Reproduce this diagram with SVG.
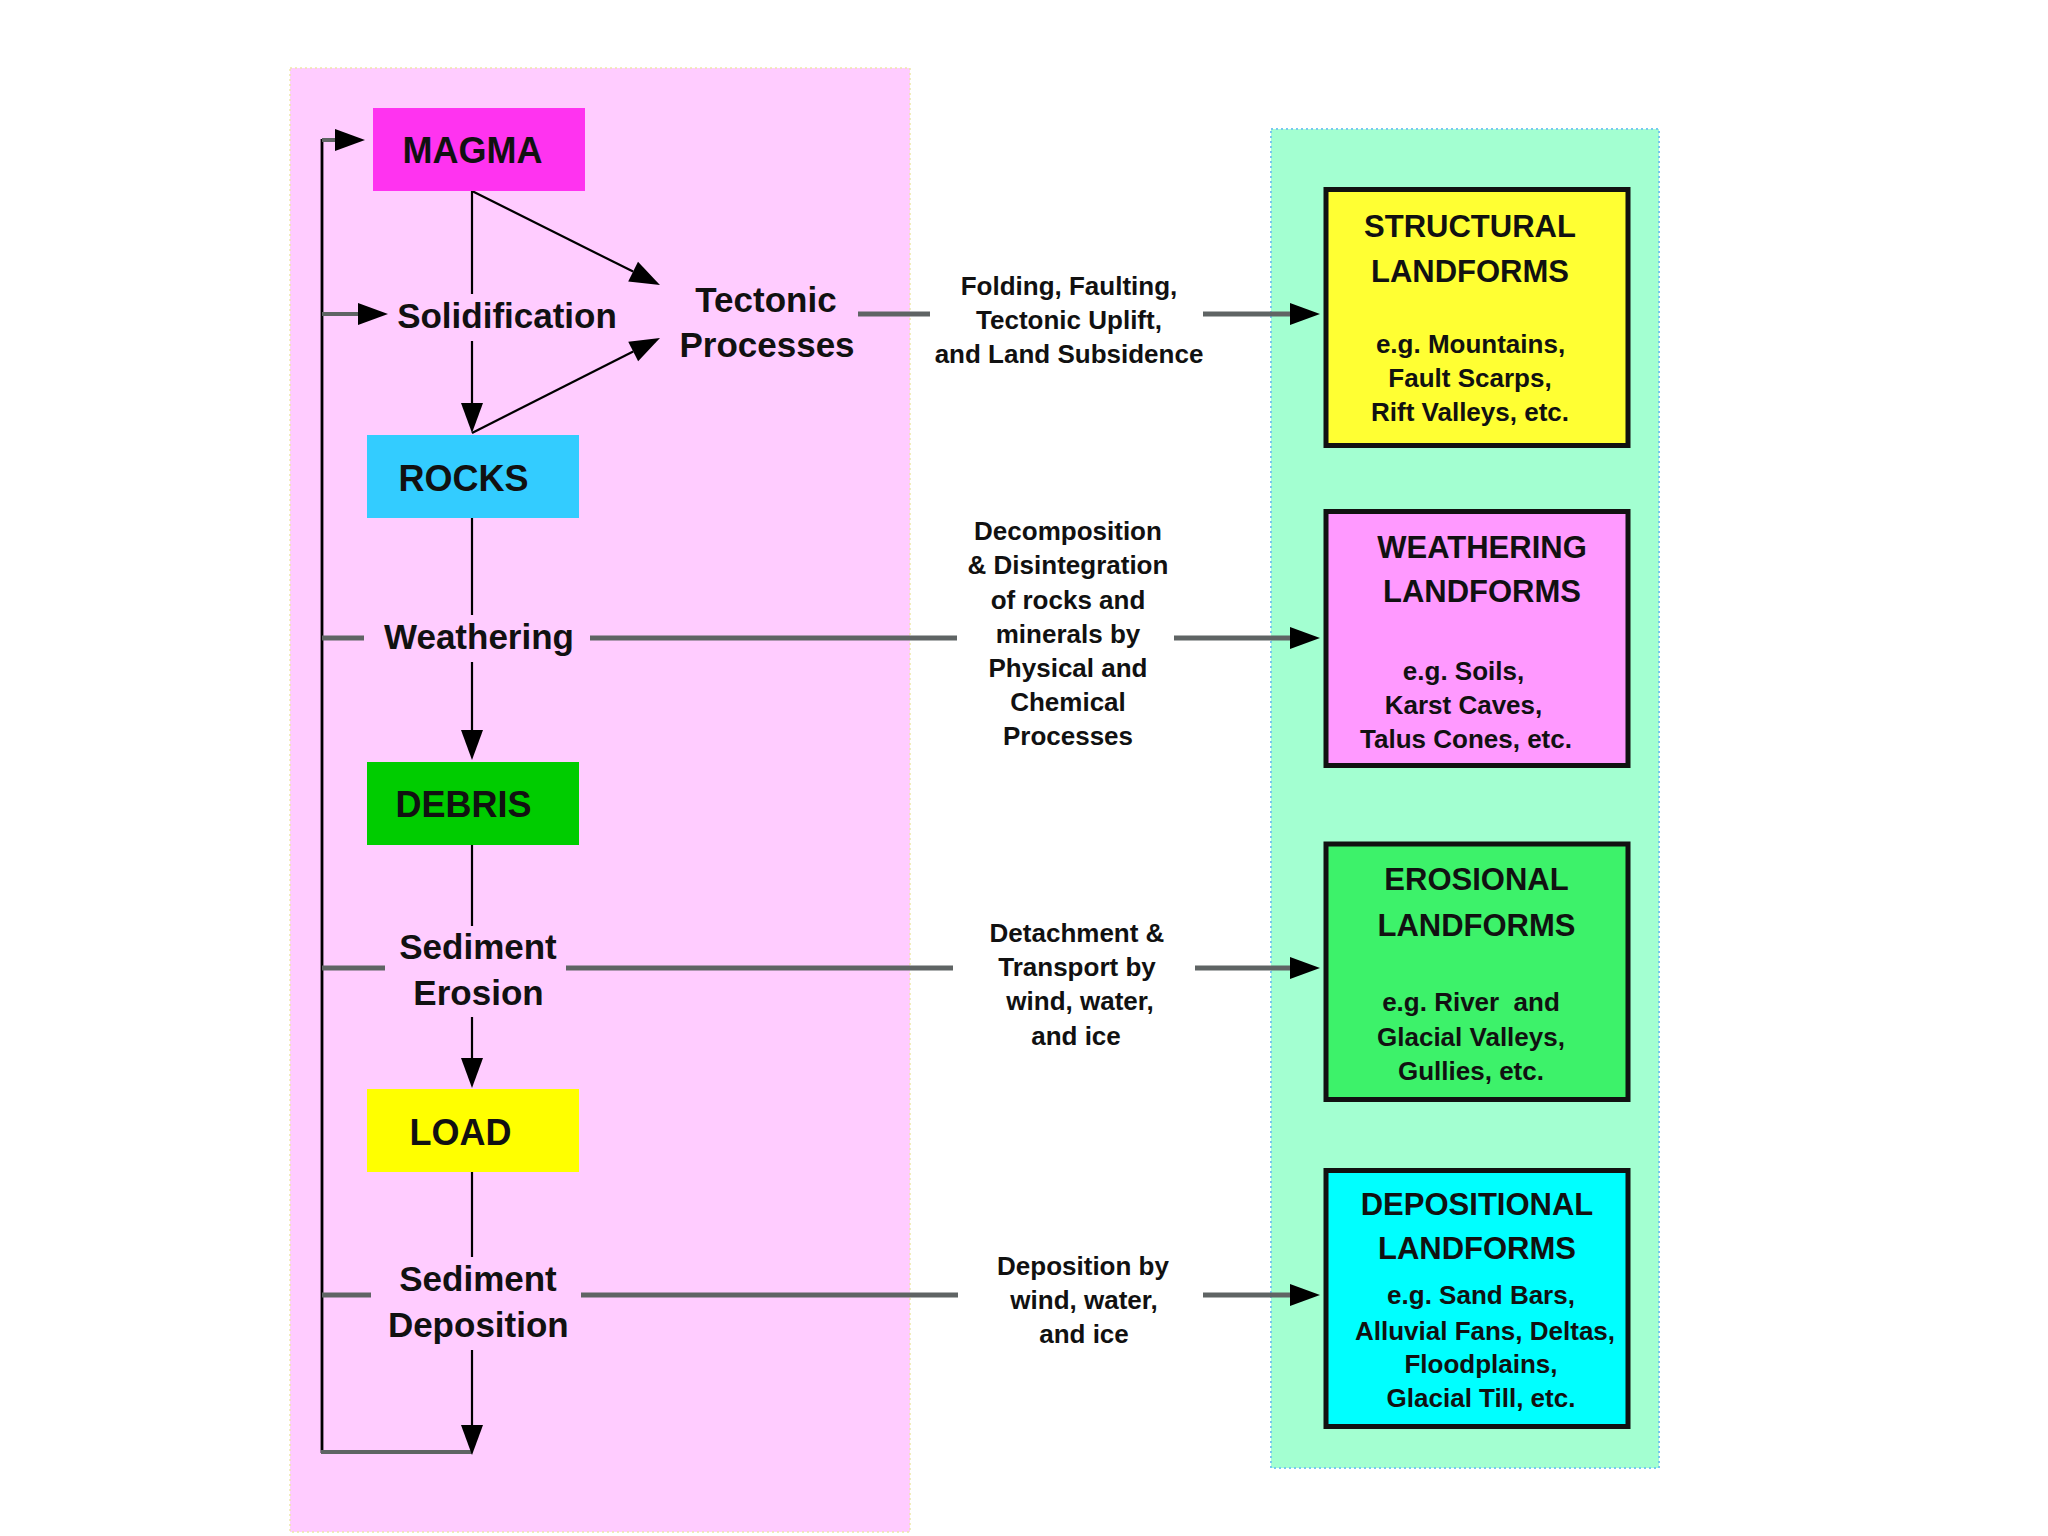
<svg xmlns="http://www.w3.org/2000/svg" width="2048" height="1536" viewBox="0 0 2048 1536">
<defs>
<style>
text{font-family:"Liberation Sans",Arial,sans-serif;font-weight:bold;fill:#111;text-anchor:middle}
.node{font-size:36px}
.proc{font-size:35px}
.ttl{font-size:31px}
.ex{font-size:26px}
.side{font-size:26px}
.blk{stroke:#000;stroke-width:2.2;fill:none}
.loop{stroke:#000;stroke-width:2.8;fill:none}
.gry{stroke:#5f6464;stroke-width:5;fill:none}
.gry4{stroke:#5f6464;stroke-width:4;fill:none}
.box{stroke:#111;stroke-width:5}
</style>
<marker id="ah" markerUnits="userSpaceOnUse" markerWidth="30" markerHeight="22" refX="0" refY="11" orient="auto" overflow="visible">
<path d="M0,0 L30,11 L0,22 Z" fill="#000"/>
</marker>
</defs>
<rect width="2048" height="1536" fill="#fff"/>
<g id="panels">
<rect x="290" y="68" width="620" height="1464" fill="#FFCCFF" stroke="#EEE8A8" stroke-width="1.5" stroke-dasharray="2,3"/>
<rect x="1271" y="129" width="388" height="1339" fill="#A3FFD1" stroke="#77C8F0" stroke-width="2" stroke-dasharray="2,3"/>
</g>
<g id="connectors">
<line class="loop" x1="322" y1="139" x2="322" y2="1453"/>
<line class="gry4" x1="321" y1="1452" x2="472" y2="1452"/>
<line class="gry4" x1="322" y1="140" x2="335" y2="140" marker-end="url(#ah)"/>
<line class="gry4" x1="322" y1="314" x2="358" y2="314" marker-end="url(#ah)"/>
<line class="blk" x1="472" y1="191" x2="472" y2="294"/>
<line class="blk" x1="472" y1="341" x2="472" y2="403" marker-end="url(#ah)"/>
<line class="blk" x1="472" y1="191" x2="633.1" y2="271.6" marker-end="url(#ah)"/>
<line class="blk" x1="472" y1="433" x2="633.2" y2="351.5" marker-end="url(#ah)"/>
<line class="blk" x1="472" y1="518" x2="472" y2="615"/>
<line class="blk" x1="472" y1="662" x2="472" y2="730" marker-end="url(#ah)"/>
<line class="blk" x1="472" y1="845" x2="472" y2="926"/>
<line class="blk" x1="472" y1="1017" x2="472" y2="1058" marker-end="url(#ah)"/>
<line class="blk" x1="472" y1="1172" x2="472" y2="1257"/>
<line class="blk" x1="472" y1="1350" x2="472" y2="1425" marker-end="url(#ah)"/>
<line class="gry" x1="858" y1="314" x2="930" y2="314"/>
<line class="gry" x1="1203" y1="314" x2="1290" y2="314" marker-end="url(#ah)"/>
<line class="gry" x1="322" y1="638" x2="364" y2="638"/>
<line class="gry" x1="590" y1="638" x2="957" y2="638"/>
<line class="gry" x1="1174" y1="638" x2="1290" y2="638" marker-end="url(#ah)"/>
<line class="gry" x1="322" y1="968" x2="385" y2="968"/>
<line class="gry" x1="566" y1="968" x2="953" y2="968"/>
<line class="gry" x1="1195" y1="968" x2="1290" y2="968" marker-end="url(#ah)"/>
<line class="gry" x1="322" y1="1295" x2="371" y2="1295"/>
<line class="gry" x1="581" y1="1295" x2="958" y2="1295"/>
<line class="gry" x1="1203" y1="1295" x2="1290" y2="1295" marker-end="url(#ah)"/>
</g>
<g id="magma"><rect x="373" y="108" width="212" height="83" fill="#FF33F0"/><text class="node" x="472.5" y="163">MAGMA</text></g>
<g id="rocks"><rect x="367" y="435" width="212" height="83" fill="#33CCFF"/><text class="node" x="463.5" y="491">ROCKS</text></g>
<g id="debris"><rect x="367" y="762" width="212" height="83" fill="#00CC00"/><text class="node" x="463.5" y="817">DEBRIS</text></g>
<g id="load"><rect x="367" y="1089" width="212" height="83" fill="#FFFF00"/><text class="node" x="460.5" y="1145">LOAD</text></g>
<g id="solidification"><text class="proc" x="507" y="328">Solidification</text></g>
<g id="tectonic"><text class="proc" x="766" y="312">Tectonic</text><text class="proc" x="767" y="357">Processes</text></g>
<g id="weathering"><text class="proc" x="479" y="649">Weathering</text></g>
<g id="sediment-erosion"><text class="proc" x="478" y="959">Sediment</text><text class="proc" x="478.5" y="1005">Erosion</text></g>
<g id="sediment-deposition"><text class="proc" x="478" y="1291">Sediment</text><text class="proc" x="478.3" y="1337">Deposition</text></g>
<g id="label-structural">
<text class="side" x="1069" y="295">Folding, Faulting,</text>
<text class="side" x="1069" y="329">Tectonic Uplift,</text>
<text class="side" x="1069" y="363">and Land Subsidence</text>
</g>
<g id="label-weathering">
<text class="side" x="1068" y="540">Decomposition</text>
<text class="side" x="1068" y="574">&amp; Disintegration</text>
<text class="side" x="1068" y="609">of rocks and</text>
<text class="side" x="1068" y="643">minerals by</text>
<text class="side" x="1068" y="677">Physical and</text>
<text class="side" x="1068" y="711">Chemical</text>
<text class="side" x="1068" y="745">Processes</text>
</g>
<g id="label-erosion">
<text class="side" x="1077" y="942">Detachment &amp;</text>
<text class="side" x="1077" y="976">Transport by</text>
<text class="side" x="1080" y="1010">wind, water,</text>
<text class="side" x="1076" y="1045">and ice</text>
</g>
<g id="label-deposition">
<text class="side" x="1083" y="1275">Deposition by</text>
<text class="side" x="1084" y="1309">wind, water,</text>
<text class="side" x="1084" y="1343">and ice</text>
</g>
<g id="structural-landforms">
<rect class="box" x="1326" y="189.5" width="302" height="256" fill="#FFFF33"/>
<text class="ttl" x="1470" y="237">STRUCTURAL</text>
<text class="ttl" x="1470" y="282">LANDFORMS</text>
<text class="ex" x="1470.5" y="353">e.g. Mountains,</text>
<text class="ex" x="1470" y="387">Fault Scarps,</text>
<text class="ex" x="1470" y="421">Rift Valleys, etc.</text>
</g>
<g id="weathering-landforms">
<rect class="box" x="1326" y="511.5" width="302" height="254" fill="#FF99FF"/>
<text class="ttl" x="1482" y="558">WEATHERING</text>
<text class="ttl" x="1482" y="602">LANDFORMS</text>
<text class="ex" x="1463.5" y="680">e.g. Soils,</text>
<text class="ex" x="1463.5" y="714">Karst Caves,</text>
<text class="ex" x="1466" y="748">Talus Cones, etc.</text>
</g>
<g id="erosional-landforms">
<rect class="box" x="1326" y="844" width="302" height="255.5" fill="#3DF26A"/>
<text class="ttl" x="1476.5" y="890">EROSIONAL</text>
<text class="ttl" x="1476.5" y="936">LANDFORMS</text>
<text class="ex" x="1471" y="1011" style="white-space:pre" xml:space="preserve">e.g. River  and</text>
<text class="ex" x="1471" y="1046">Glacial Valleys,</text>
<text class="ex" x="1471" y="1080">Gullies, etc.</text>
</g>
<g id="depositional-landforms">
<rect class="box" x="1326" y="1170.5" width="302" height="256" fill="#00FFFF"/>
<text class="ttl" x="1477" y="1215">DEPOSITIONAL</text>
<text class="ttl" x="1477" y="1259">LANDFORMS</text>
<text class="ex" x="1481" y="1304">e.g. Sand Bars,</text>
<text class="ex" x="1485" y="1340">Alluvial Fans, Deltas,</text>
<text class="ex" x="1481" y="1373">Floodplains,</text>
<text class="ex" x="1481" y="1407">Glacial Till, etc.</text>
</g>
</svg>
